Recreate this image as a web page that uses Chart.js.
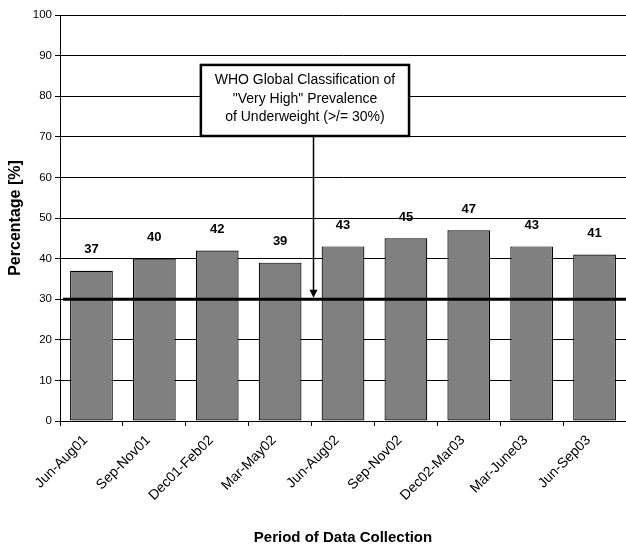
<!DOCTYPE html>
<html>
<head>
<meta charset="utf-8">
<script src="https://cdn.jsdelivr.net/npm/chart.js@4/dist/chart.umd.min.js"></script>
<style>
  html, body { margin: 0; padding: 0; background: #fff; }
  #wrap { width: 626px; height: 547px; }
</style>
</head>
<body>
<div id="wrap"><canvas id="c" width="626" height="547"></canvas></div>
<script>
// Survey periods and the share of children found underweight in each
const periods = ['Jun-Aug01', 'Sep-Nov01', 'Dec01-Feb02', 'Mar-May02', 'Jun-Aug02',
                 'Sep-Nov02', 'Dec02-Mar03', 'Mar-June03', 'Jun-Sep03'];
const underweightPct = [37, 40, 42, 39, 43, 45, 47, 43, 41];

// WHO "very high" prevalence threshold
const whoThreshold = 30;
const noteLines = ['WHO Global Classification of', '"Very High" Prevalence', 'of Underweight (>/= 30%)'];

const FONT = 'Arial, "Liberation Sans", sans-serif';

// Threshold line, callout box with arrow, and value labels over the bars
const overlay = {
  id: 'overlay',
  afterDatasetsDraw(chart) {
    const { ctx, chartArea, scales } = chart;
    const xs = scales.x, ys = scales.y;
    const yT = ys.getPixelForValue(whoThreshold);

    ctx.save();
    // thick threshold line
    ctx.strokeStyle = '#000';
    ctx.lineWidth = 3;
    ctx.beginPath();
    ctx.moveTo(chartArea.left + 3, yT);
    ctx.lineTo(chartArea.right, yT);
    ctx.stroke();

    // callout box
    const bx1 = xs.getPixelForValue(1.74), bx2 = xs.getPixelForValue(5.05);
    const by1 = ys.getPixelForValue(87.7), by2 = ys.getPixelForValue(70.2);
    ctx.fillStyle = '#fff';
    ctx.fillRect(bx1, by1, bx2 - bx1, by2 - by1);
    ctx.lineWidth = 2.5;
    ctx.strokeRect(bx1, by1, bx2 - bx1, by2 - by1);

    ctx.fillStyle = '#000';
    ctx.font = '14px ' + FONT;
    ctx.textAlign = 'center';
    ctx.textBaseline = 'middle';
    const cx = (bx1 + bx2) / 2, cy = (by1 + by2) / 2 - 1.5;
    const lh = 18.5;
    noteLines.forEach((t, i) => ctx.fillText(t, cx, cy + (i - 1) * lh));

    // arrow from box to threshold line
    const ax = Math.round(xs.getPixelForValue(3.5)) + 1.5;
    const tip = yT - 1.5;
    ctx.lineWidth = 1.5;
    ctx.beginPath();
    ctx.moveTo(ax, by2 + 1);
    ctx.lineTo(ax, tip - 7);
    ctx.stroke();
    ctx.beginPath();
    ctx.moveTo(ax - 4, tip - 8);
    ctx.lineTo(ax + 4, tip - 8);
    ctx.lineTo(ax, tip);
    ctx.closePath();
    ctx.fill();

    // value labels
    ctx.font = 'bold 13px ' + FONT;
    const meta = chart.getDatasetMeta(0);
    meta.data.forEach((bar, i) => {
      ctx.fillText(String(underweightPct[i]), bar.x, bar.y - 21);
    });
    ctx.restore();
  }
};

new Chart(document.getElementById('c'), {
  type: 'bar',
  data: {
    labels: periods,
    datasets: [{
      data: underweightPct,
      backgroundColor: '#808080',
      borderColor: '#000',
      borderWidth: 1.2,
      borderSkipped: false,
      barPercentage: 0.68,
      categoryPercentage: 1
    }]
  },
  options: {
    responsive: false,
    animation: false,
    devicePixelRatio: 1,
    layout: { padding: { top: 15, right: 0, left: 0, bottom: 0 } },
    plugins: { legend: { display: false }, tooltip: { enabled: false } },
    scales: {
      x: {
        offset: true,
        grid: { display: true, drawOnChartArea: false, drawTicks: true, tickLength: 5, color: '#000', offset: true },
        border: { display: true, color: '#000', width: 1 },
        ticks: { color: '#000', font: { family: FONT, size: 14 }, maxRotation: 45, minRotation: 45,
                 padding: 6, labelOffset: -6 },
        title: { display: true, text: 'Period of Data Collection', color: '#000',
                 font: { family: FONT, size: 15, weight: 'bold' }, padding: { top: 4, bottom: 0 } },
        afterFit(s) { s.height = 126; }
      },
      y: {
        min: 0, max: 100,
        ticks: { stepSize: 10, color: '#000', font: { family: FONT, size: 11.5 }, padding: 3 },
        grid: { color: '#000', lineWidth: 1, tickLength: 5 },
        border: { display: true, color: '#000', width: 1 },
        title: { display: true, text: 'Percentage [%]', color: '#000',
                 font: { family: FONT, size: 16, weight: 'bold' }, padding: { top: 6, bottom: 4 } },
        afterFit(s) { s.width = 60; }
      }
    }
  },
  plugins: [overlay]
});
</script>
</body>
</html>
